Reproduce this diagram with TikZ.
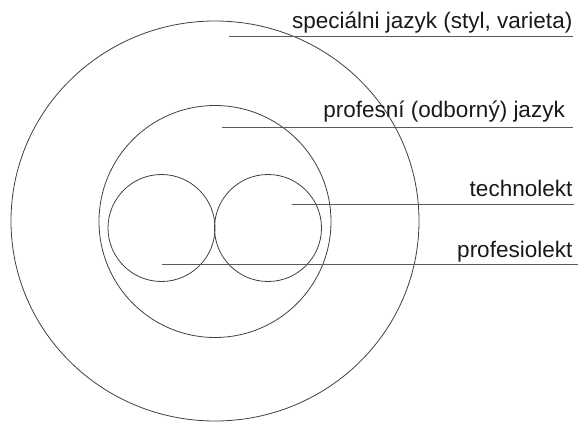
\documentclass[tikz,border=0pt]{standalone}
\usepackage{fontspec}
\setmainfont{Liberation Sans}
\begin{document}
\begin{tikzpicture}[x=1pt,y=-1pt,
  ring/.style={draw=black!75, line width=0.8pt},
  leader/.style={draw=black!65, line width=1pt},
  lbl/.style={anchor=base east, inner sep=0pt, text=black!90, font=\fontsize{22.5}{27}\selectfont}]
\useasboundingbox (0,0) rectangle (578,422);
% circles
\draw[ring] (215,221) ellipse [x radius=204, y radius=200];
\draw[ring] (215,221.5) circle [radius=116];
\draw[ring] (161.5,228) circle [radius=53.5];
\draw[ring] (268,228) circle [radius=53.5];
% labels
\node[lbl] (spec) at (572.5,29) {speciálni jazyk (styl, varieta)};
\node[lbl] (prof) at (565,118) {profesní (odborný) jazyk};
\node[lbl] (tech) at (572.5,196.5) {technolekt};
\node[lbl] (pfl) at (572.5,257) {profesiolekt};
% leader line endpoints
\coordinate (s1) at (229,37);
\coordinate (s2) at (573,37);
\coordinate (p1) at (222,127.5);
\coordinate (p2) at (573,127.5);
\coordinate (t1) at (291.5,204.5);
\coordinate (t2) at (574,204.5);
\coordinate (f1) at (162,264);
\coordinate (f2) at (578,264);
\draw[leader] (s1) -- (s2);
\draw[leader] (p1) -- (p2);
\draw[leader] (t1) -- (t2);
\draw[leader] (f1) -- (f2);
\end{tikzpicture}
\end{document}
